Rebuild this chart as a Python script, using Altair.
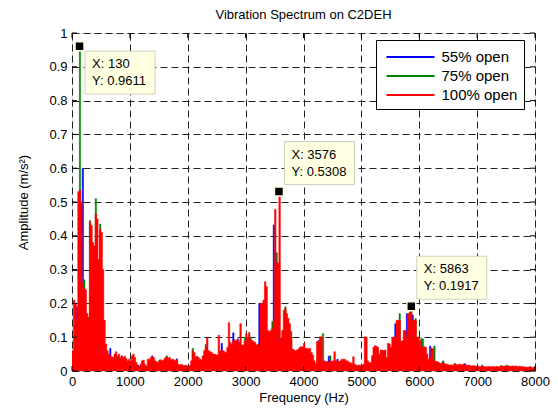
import altair as alt
import pandas as pd

FONT = "Liberation Sans"
title_text = "Vibration Spectrum on C2DEH"
series_names = ["55% open", "75% open", "100% open"]
series_colors = ["#0000FF", "#008000", "#FF0000"]
step = 25  # Hz per spectral bin

# 100% open (red), one value per 25 Hz bin from 0 to 8000 Hz
red_amp = [
    0.060, 0.210, 0.200, 0.150, 0.530, 0.535, 0.500, 0.260,
    0.245, 0.240, 0.170, 0.160, 0.440, 0.430, 0.380, 0.370,
    0.465, 0.450, 0.330, 0.420, 0.410, 0.300, 0.150, 0.080,
    0.060, 0.050, 0.045, 0.042, 0.040, 0.050, 0.057, 0.045,
    0.050, 0.040, 0.044, 0.040, 0.044, 0.037, 0.030, 0.035,
    0.030, 0.045, 0.050, 0.040, 0.025, 0.012, 0.015, 0.020,
    0.030, 0.032, 0.020, 0.015, 0.035, 0.035, 0.040, 0.042,
    0.040, 0.030, 0.028, 0.025, 0.028, 0.033, 0.030, 0.033,
    0.040, 0.040, 0.038, 0.040, 0.033, 0.035, 0.033, 0.030,
    0.033, 0.020, 0.018, 0.020, 0.018, 0.016, 0.018, 0.015,
    0.015, 0.016, 0.030, 0.060, 0.055, 0.042, 0.044, 0.040,
    0.035, 0.033, 0.045, 0.060, 0.070, 0.097, 0.060, 0.057,
    0.055, 0.050, 0.050, 0.048, 0.047, 0.106, 0.060, 0.062,
    0.060, 0.057, 0.055, 0.070, 0.143, 0.085, 0.080, 0.090,
    0.092, 0.090, 0.092, 0.085, 0.140, 0.077, 0.077, 0.088,
    0.110, 0.100, 0.114, 0.092, 0.090, 0.087, 0.085, 0.077,
    0.080, 0.077, 0.200, 0.200, 0.210, 0.264, 0.250, 0.120,
    0.117, 0.120, 0.125, 0.150, 0.478, 0.320, 0.320, 0.5308,
    0.086, 0.120, 0.180, 0.185, 0.170, 0.155, 0.140, 0.100,
    0.065, 0.062, 0.060, 0.062, 0.065, 0.070, 0.072, 0.072,
    0.082, 0.067, 0.067, 0.065, 0.067, 0.055, 0.047, 0.030,
    0.022, 0.087, 0.087, 0.101, 0.101, 0.028, 0.030, 0.028,
    0.028, 0.025, 0.030, 0.028, 0.030, 0.057, 0.030, 0.028,
    0.028, 0.030, 0.035, 0.035, 0.035, 0.030, 0.030, 0.025,
    0.025, 0.022, 0.042, 0.020, 0.017, 0.017, 0.018, 0.017,
    0.017, 0.020, 0.101, 0.100, 0.030, 0.025, 0.025, 0.045,
    0.070, 0.075, 0.073, 0.070, 0.050, 0.062, 0.062, 0.060,
    0.062, 0.040, 0.082, 0.080, 0.070, 0.100, 0.100, 0.100,
    0.150, 0.150, 0.150, 0.087, 0.090, 0.120, 0.120, 0.100,
    0.170, 0.170, 0.180, 0.150, 0.150, 0.150, 0.100, 0.100,
    0.090, 0.072, 0.070, 0.072, 0.070, 0.050, 0.034, 0.040,
    0.068, 0.066, 0.030, 0.028, 0.028, 0.025, 0.023, 0.023,
    0.023, 0.022, 0.020, 0.020, 0.018, 0.018, 0.018, 0.017,
    0.020, 0.020, 0.018, 0.020, 0.020, 0.018, 0.020, 0.018,
    0.018, 0.017, 0.018, 0.015, 0.015, 0.016, 0.015, 0.014,
    0.015, 0.013, 0.013, 0.014, 0.013, 0.013, 0.012, 0.013,
    0.013, 0.012, 0.013, 0.013, 0.012, 0.013, 0.013, 0.012,
    0.013, 0.014, 0.015, 0.015, 0.014, 0.015, 0.015, 0.014,
    0.015, 0.014, 0.015, 0.014, 0.013, 0.014, 0.013, 0.013,
    0.012, 0.012, 0.011, 0.011, 0.012, 0.011, 0.011, 0.011,
    0.011,
]

# 55% open (blue): bins where it shows above the red trace
blue_f = [75, 175, 650, 1125, 1375, 1800, 2575, 2775, 2850, 3225, 3475,
          3600, 4250, 4425, 4575, 5575, 5775, 5875, 6175, 6400, 6775, 7900]
blue_a = [0.19, 0.60, 0.067, 0.018, 0.045, 0.036, 0.082, 0.113, 0.095, 0.20, 0.432,
          0.097, 0.09, 0.044, 0.035, 0.14, 0.17, 0.166, 0.074, 0.028, 0.022, 0.013]

# 75% open (green): bins where it shows above the red trace
green_f = [125, 200, 300, 400, 475, 850, 1500, 1625, 2075, 2300, 2975, 3075,
           3450, 3525, 3675, 3775, 4325, 4450, 5650, 5825, 5850, 5925, 6025,
           6050, 6250, 6400, 6600, 7075, 7400, 7500]
green_a = [0.9611, 0.27, 0.445, 0.51, 0.435, 0.045, 0.033, 0.045, 0.067, 0.079, 0.10, 0.10,
           0.146, 0.35, 0.19, 0.117, 0.111, 0.045, 0.17, 0.175, 0.1917, 0.155, 0.097,
           0.095, 0.074, 0.03, 0.023, 0.018, 0.017, 0.018]

# data tips
tip_f = [130, 3576, 5863]
tip_a = [0.9611, 0.5308, 0.1917]

x_ticks = [0, 1000, 2000, 3000, 4000, 5000, 6000, 7000, 8000]
y_ticks = [0, 0.1, 0.2, 0.3, 0.4, 0.5, 0.6, 0.7, 0.8, 0.9, 1]

W, H = 463, 338

red_df = pd.DataFrame({"f": [i * step for i in range(len(red_amp))], "a": red_amp,
                       "s": series_names[2]})
blue_df = pd.DataFrame({"f": blue_f, "f2": [v + step for v in blue_f], "a": blue_a,
                        "z": 0.0, "s": series_names[0]})
green_df = pd.DataFrame({"f": green_f, "f2": [v + step for v in green_f], "a": green_a,
                         "z": 0.0, "s": series_names[1]})
tips_df = pd.DataFrame({"f": tip_f, "a": tip_a,
                        "lx": [f"X: {v}" for v in tip_f],
                        "ly": [f"Y: {v}" for v in tip_a]})

xs = alt.Scale(domain=[0, 8000], nice=False, zero=False)
ys = alt.Scale(domain=[0, 1], nice=False)
cscale = alt.Scale(domain=series_names, range=series_colors)

axis_common = dict(grid=True, gridDash=[7, 4], gridColor="#222", gridWidth=1,
                   ticks=False, domain=False, labelFont=FONT, labelFontSize=13,
                   labelColor="black", titleFont=FONT, titleFontSize=13,
                   titleFontWeight="normal", titleColor="black",
                   labelFlush=False, labelOverlap=False)

x_axis = alt.Axis(values=x_ticks, format="d", title="Frequency (Hz)",
                  labelPadding=4, titlePadding=3, **axis_common)
y_axis = alt.Axis(values=y_ticks, format="~g", title="Amplitude (m/s²)",
                  labelPadding=5, titlePadding=18, **axis_common)
x_enc = alt.X("f:Q", scale=xs, axis=x_axis)
y_enc = alt.Y("a:Q", scale=ys, axis=y_axis)

# legend with long horizontal line symbols (custom path, 2.5x the nominal size)
legend = alt.Legend(title=None, orient="none", legendX=304, legendY=7,
                    symbolType="M-2.5,0L2.5,0", symbolSize=369, symbolStrokeWidth=2,
                    labelFont=FONT, labelFontSize=15, labelColor="black",
                    labelAlign="left",
                    strokeColor="black", fillColor="white", padding=6,
                    rowPadding=0, symbolOffset=17.5, labelOffset=20)

fill_enc = alt.Fill("s:N", scale=cscale, legend=legend)
stroke_enc = alt.Stroke("s:N", scale=cscale, legend=legend)

blue = alt.Chart(blue_df).mark_bar(clip=True, strokeWidth=0.4).encode(
    x=x_enc, x2="f2:Q", y=y_enc, y2="z:Q", fill=fill_enc, stroke=stroke_enc)
green = alt.Chart(green_df).mark_bar(clip=True, strokeWidth=0.4).encode(
    x=x_enc, x2="f2:Q", y=y_enc, y2="z:Q", fill=fill_enc, stroke=stroke_enc)
red = alt.Chart(red_df).mark_area(clip=True, interpolate="step-after", strokeWidth=0.6).encode(
    x=x_enc, y=y_enc, fill=fill_enc, stroke=stroke_enc)

# inward tick marks on all four sides (MATLAB box style)
xt_df = pd.DataFrame({"f": x_ticks})
yt_df = pd.DataFrame({"a": y_ticks})
tick_len = 5
xt_bottom = alt.Chart(xt_df).mark_rule(color="black", strokeWidth=1).encode(
    x=x_enc, y=alt.value(H), y2=alt.value(H - tick_len))
xt_top = alt.Chart(xt_df).mark_rule(color="black", strokeWidth=1).encode(
    x=x_enc, y=alt.value(0), y2=alt.value(tick_len))
yt_left = alt.Chart(yt_df).mark_rule(color="black", strokeWidth=1).encode(
    y=y_enc, x=alt.value(0), x2=alt.value(tick_len))
yt_right = alt.Chart(yt_df).mark_rule(color="black", strokeWidth=1).encode(
    y=y_enc, x=alt.value(W), x2=alt.value(W - tick_len))

# data tips
tip_layers = []
tip_layout = [  # (box center dy, X line dy, Y line dy)
    (26.5, 22, 39),
    (-28.5, -33, -16),
    (-28.5, -33, -16),
]
for i, (bdy, t1, t2) in enumerate(tip_layout):
    sub = alt.Chart(tips_df.iloc[[i]])
    tip_layers.append(sub.mark_rect(width=70, height=43, xOffset=40.5, yOffset=bdy,
                                    fill="#ffffe1", stroke="#cfcfbf", strokeWidth=1).encode(
        x=x_enc, y=y_enc))
    tip_layers.append(sub.mark_text(align="left", baseline="alphabetic", dx=12.5, dy=t1,
                                    font=FONT, fontSize=13, color="black").encode(
        x=x_enc, y=y_enc, text="lx:N"))
    tip_layers.append(sub.mark_text(align="left", baseline="alphabetic", dx=12.5, dy=t2,
                                    font=FONT, fontSize=13, color="black").encode(
        x=x_enc, y=y_enc, text="ly:N"))

squares = alt.Chart(tips_df).mark_square(size=81, fill="black", stroke="#ffffe1",
                                         strokeWidth=1.5, opacity=1).encode(
    x=x_enc, y=y_enc)

chart = alt.layer(
    blue, green, red, xt_bottom, xt_top, yt_left, yt_right, *tip_layers, squares
).properties(
    width=W, height=H,
    title=alt.TitleParams(title_text, font=FONT, fontSize=13, fontWeight="normal",
                          color="black", anchor="middle", offset=5, frame="group"),
    autosize="none",
    padding={"left": 64, "top": 25, "right": 15, "bottom": 38},
).configure_view(
    stroke="black", strokeWidth=1
).configure(background="white")

chart.save("out.html", embed_options={"renderer": "svg", "actions": False})
